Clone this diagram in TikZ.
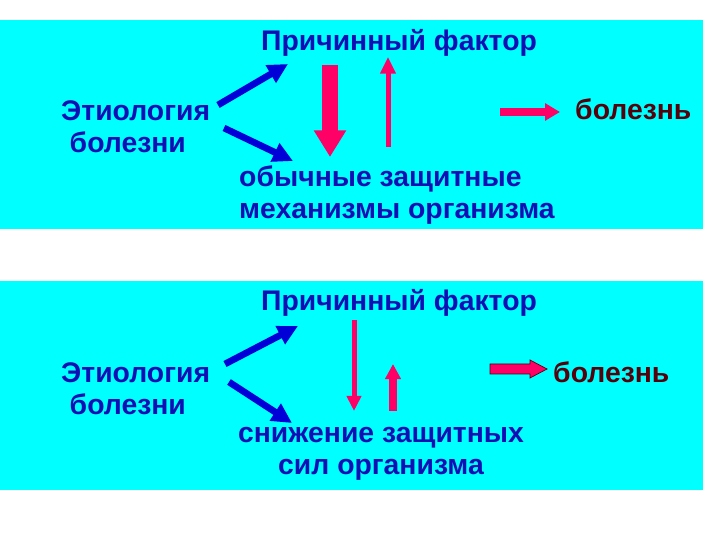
\documentclass[tikz,border=0pt]{standalone}
\usepackage{fontspec}
\setmainfont{Liberation Sans}
\usetikzlibrary{arrows.meta}
\definecolor{panelcyan}{RGB}{0,255,255}
\definecolor{textblue}{RGB}{15,15,180}
\definecolor{arrowblue}{RGB}{0,0,215}
\definecolor{arrowred}{RGB}{255,0,102}
\definecolor{illred}{RGB}{85,0,10}
\begin{document}
\begin{tikzpicture}[x=0.03cm, y=-0.03cm,
    lbl/.style={font=\fontsize{24.2}{27.5}\selectfont\bfseries, text=textblue, inner sep=0pt},
    ill/.style={lbl, text=illred},
    bluearr/.style={arrowblue, line width=0.2cm, -{Triangle[length=0.6cm, width=0.58cm]}},
    redarr/.style={arrowred, line width=#1}]
    \useasboundingbox (0,0) rectangle (720,540);

    % upper panel
    \fill[panelcyan] (0,20) rectangle (703,229);
    \node[lbl] (cause1) at (399,43) {Причинный фактор};
    \node[lbl, align=left, anchor=west] (etio1) at (61,127) {Этиология\\\hspace{0.3em}болезни};
    \node[lbl, align=left, anchor=west] (def1) at (239,195) {обычные защитные\\механизмы организма};
    \node[ill, anchor=west] (ill1) at (575,109) {болезнь};

    \coordinate (u1s) at (218,105); \coordinate (u1e) at (288,64);
    \coordinate (d1s) at (224,128); \coordinate (d1e) at (293,161);
    \draw[bluearr] (u1s) -- (u1e);
    \draw[bluearr] (d1s) -- (d1e);

    \coordinate (f1s) at (330,65);  \coordinate (f1e) at (330,157);
    \coordinate (r1s) at (388,147); \coordinate (r1e) at (388,57);
    \coordinate (i1s) at (500,112); \coordinate (i1e) at (560,112);
    \draw[redarr=0.48cm, -{Triangle[length=0.8cm, width=0.92cm]}] (f1s) -- (f1e);
    \draw[redarr=0.15cm, -{Triangle[length=0.5cm, width=0.45cm]}] (r1s) -- (r1e);
    \draw[redarr=0.22cm, -{Triangle[length=0.45cm, width=0.5cm]}] (i1s) -- (i1e);

    % lower panel
    \fill[panelcyan] (0,281) rectangle (703,490);
    \node[lbl] (cause2) at (399,303) {Причинный фактор};
    \node[lbl, align=left, anchor=west] (etio2) at (61,389) {Этиология\\\hspace{0.3em}болезни};
    \node[lbl, align=center] (def2) at (381,454) {снижение защитных\\сил организма};
    \node[ill, anchor=west] (ill2) at (553,372) {болезнь};

    \coordinate (u2s) at (225,364); \coordinate (u2e) at (298,326);
    \coordinate (d2s) at (229,382); \coordinate (d2e) at (292,423);
    \draw[bluearr] (u2s) -- (u2e);
    \draw[bluearr] (d2s) -- (d2e);

    \coordinate (f2s) at (354,320); \coordinate (f2e) at (354,411);
    \coordinate (r2s) at (393,411); \coordinate (r2e) at (393,364);
    \coordinate (i2s) at (490,369); \coordinate (i2e) at (547,369);
    \draw[redarr=0.15cm, -{Triangle[length=0.45cm, width=0.42cm]}] (f2s) -- (f2e);
    \draw[redarr=0.24cm, -{Triangle[length=0.45cm, width=0.45cm]}] (r2s) -- (r2e);
    \fill[arrowred, draw=illred, line width=0.6pt]
        (490,364) -- (530,364) -- (530,360) -- (547,369) -- (530,378) -- (530,374) -- (490,374) -- cycle;

\end{tikzpicture}
\end{document}
